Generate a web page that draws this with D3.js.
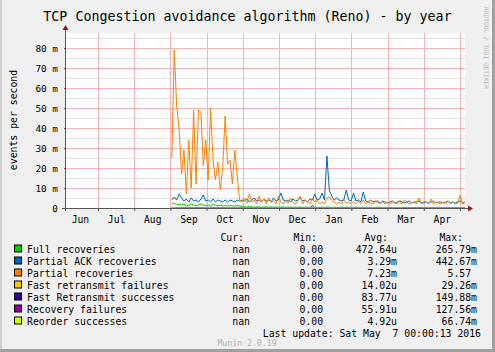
<!DOCTYPE html>
<html>
<head>
<meta charset="utf-8">
<script src="https://cdn.jsdelivr.net/npm/d3@7"></script>
<style>
body { margin: 0; background: #f0f0f0; }
text { font-family: "DejaVu Sans Mono", monospace; }
</style>
</head>
<body>
<div id="chart"></div>
<script>
// month labels, each one sits in the middle of its month slot (Jun = slot 0)
var months = ["Jun", "Jul", "Aug", "Sep", "Oct", "Nov", "Dec", "Jan", "Feb", "Mar", "Apr"];
var monthBounds = [1, 2, 3, 4, 5, 6, 7, 8, 9, 10, 11];
var yTicks = [0, 10, 20, 30, 40, 50, 60, 70, 80];

// data runs from early Sep to the end of the graph, values in milli events/s
var dataStart = 3.04, dataEnd = 11.14;

var fullRecoveries = [2,2.5,1.5,2,1.5,2,1,1.5,2,1.5,1,1.5,2,1.5,1,1.5,1,2,1.5,1,1.5,1,1.2,1,1.5,1,1,1.2,1,
    0.8,0.6,0.5,0.7,0.5,0.4,0.6,0.5,0.4,0.5,0.6,0.4,0.5,0.4,0.5,0.4,
    0.4,0.5,0.3,0.4,0.5,0.3,0.4,0.3,0.5,0.4,0.3,0.4,0.3,0.4,0.3,
    0.4,0.3,0.4,0.3,0.5,0.4,0.3,0.4,0.3,0.3,0.4,0.3,0.4,0.3,0.3,
    0.3,0.4,0.3,0.3,0.4,0.3,0.3,0.2,0.3,0.3,0.4,0.3,0.3,0.2,0.3,
    0.3,0.2,0.3,0.3,0.2,0.3,0.3,0.2,0.3,0.2,0.3,0.3,0.2,0.3,0.2,
    0.3,0.2,0.3,0.2,0.3,0.3,0.2,0.3,0.2,0.3,0.2,0.3,0.2,0.3,0.2,0.3,0.2];

var partialAck = [4,5.5,4,7,5,3.5,4.5,3,5,3.5,4,3,4.5,6.5,3.5,4,3,4.5,3,4,3.5,3,4,3,4,3.5,3,4,3.5,
    4,3.5,4.5,3,4,5,3.5,4,3,4.5,3.5,4,3,5,3.5,4,
    7.5,4,3.5,4,3,4.5,3.5,4,5,3.5,4,3,4.5,4,7,
    4,4.5,7.5,4,26,9,6,4,5,4,3.5,4,9,4,3.5,
    7.5,3.5,4,3,8,3.5,3,4,3,3.5,3,2.5,3.5,3,2.5,
    3,3.5,2.5,3,3.5,3,2.5,3,3.5,2.5,3,3,3.5,2.5,3,
    3,2.5,3,3.5,2.5,3,3,2.5,3,3.5,2.5,3,2.5,3,3.5,2.5,3];

var partialRecoveries = [25,79,51,40,17,29,7,34,10,49,12,49,48,21,34,14,50,24,14,23,9,20,46,22,24,12,29,16,4,
    3,5,2.5,7,3,4,2,6,3,4.5,2,5,3,3.5,2,6,
    3,2,4,2.5,5,3,2,3.5,6,2,4,3,2,5,3,
    4,2,3,2,5,5.5,4,3,2,3,2,4,2.5,3,2,
    3,2,3.5,2,4,2,3,2.5,2,3,4,2,3,2,3,
    2,3,2.5,2,3,2,4,3,2,2.5,3,2,5,2.5,2,
    3,2,4.5,2,3,2.5,2,3,2,3.5,2,3,2,2.5,6.5,2,3];

var fastRetransFail = [0,0,0.1,0,0,0,0,0,0.1,0,0,0,0,0,0,0,0,0,0,0,0,0,0,0,0];
var fastRetransSucc = [0.2,0.1,0.1,0,0.1,0,0,0.1,0,0,0.1,0,0,0,0.1,0,0,0,0,0,0,0,0,0,0];
var recoveryFail = [0.3,0.2,0.1,0,0.1,0,0,0.1,0,0,0,0.1,0,0,0,0,0.1,0,0,0,0,0,0,0,0,0,0,0,0,
    0,0,0,0,0,0,0,0,0,0,0,0,0,0,0,0,
    0,0,0,0,0,0,0,0,0,0,0,0,0,1.3,0,
    0,0,0,0,0,0,0,0,0,0,0,0,0,0,0,
    0,0,0,0,0,0,0,0,0,0,0,0,0,0,0,
    0,0,0,0,0,0,0,0,0,0,0,0,0,0,0,
    0,0,0,0,0,0,0,0,0,0,0,0,0,0,0,0,0];
var reorderSucc = [0.1,0,0,0,0,0,0,0,0,0,0,0,0,0,0,0,0,0,0,0,0,0,0,0,0];

var seriesNames = ["Full recoveries", "Partial ACK recoveries", "Partial recoveries",
    "Fast retransmit failures", "Fast Retransmit successes", "Recovery failures", "Reorder successes"];
var seriesData = [fullRecoveries, partialAck, partialRecoveries, fastRetransFail,
    fastRetransSucc, recoveryFail, reorderSucc];
var colors = ["#00cc00", "#0066b3", "#ff8000", "#ffcc00", "#330099", "#990099", "#ccff00"];

var curVals = ["nan", "nan", "nan", "nan", "nan", "nan", "nan"];
var minVals = ["0.00 ", "0.00 ", "0.00 ", "0.00 ", "0.00 ", "0.00 ", "0.00 "];
var avgVals = ["472.64u", "3.29m", "7.23m", "14.02u", "83.77u", "55.91u", "4.92u"];
var maxVals = ["265.79m", "442.67m", "5.57 ", "29.26m", "149.88m", "127.56m", "66.74m"];

var W = 495, H = 352;
var svg = d3.select("#chart").append("svg")
    .attr("width", W)
    .attr("height", H);

svg.append("rect").attr("width", W).attr("height", H).attr("fill", "#f0f0f0");
// 3d border
svg.append("rect").attr("x", 0).attr("y", 0).attr("width", 2).attr("height", H).attr("fill", "#cfcfcf");
svg.append("rect").attr("x", W - 3).attr("y", 0).attr("width", 3).attr("height", H).attr("fill", "#a0a0a0");
svg.append("rect").attr("x", 0).attr("y", H - 3).attr("width", W).attr("height", 3).attr("fill", "#a0a0a0");

var x = d3.scaleLinear().domain([0.116, 11.14]).range([66, 465]);
var y = d3.scaleLinear().domain([0, 87.5]).range([208, 33]);

svg.append("rect")
    .attr("x", x.range()[0]).attr("y", y.range()[1])
    .attr("width", x.range()[1] - x.range()[0])
    .attr("height", y.range()[0] - y.range()[1])
    .attr("fill", "#ffffff");

// minor grid
svg.append("g").selectAll("line").data(d3.range(5, 88, 10)).enter()
    .append("line")
    .attr("x1", 66).attr("x2", 465)
    .attr("y1", d => Math.round(y(d)) + 0.5).attr("y2", d => Math.round(y(d)) + 0.5)
    .attr("stroke", "#e2e2e2");

// major grid
svg.append("g").selectAll("line").data(yTicks.slice(1)).enter()
    .append("line")
    .attr("x1", 66).attr("x2", 465)
    .attr("y1", d => Math.round(y(d)) + 0.5).attr("y2", d => Math.round(y(d)) + 0.5)
    .attr("stroke", "#f5b4b4");
svg.append("g").selectAll("line").data(monthBounds).enter()
    .append("line")
    .attr("x1", d => Math.round(x(d)) + 0.5).attr("x2", d => Math.round(x(d)) + 0.5)
    .attr("y1", 33).attr("y2", 208)
    .attr("stroke", "#f5b4b4");

// series
seriesData.forEach(function (vals, s) {
    var n = vals.length;
    var line = d3.line()
        .x(function (d, i) { return x(dataStart + i * (dataEnd - dataStart) / (n - 1)); })
        .y(function (d) { return y(d); });
    svg.append("path")
        .datum(vals)
        .attr("d", line)
        .attr("fill", "none")
        .attr("stroke", colors[s])
        .attr("stroke-width", 1);
});

// axes
var yAxis = d3.axisLeft(y).tickValues(yTicks).tickSize(2).tickPadding(6)
    .tickFormat(d => d ? d + " m" : "0");
var gy = svg.append("g").attr("transform", "translate(66,0)").call(yAxis);
gy.select(".domain").remove();
gy.selectAll("text").style("font-size", "9.4px").attr("fill", "#000");
gy.selectAll("line").attr("stroke", "#555");

var xTicks = d3.axisBottom(x).tickValues(monthBounds).tickSize(3).tickFormat("");
var gx = svg.append("g").attr("transform", "translate(0,208)").call(xTicks);
gx.select(".domain").remove();
gx.selectAll("line").attr("stroke", "#555");

var xLabels = d3.axisBottom(x).tickValues(months.map((m, i) => i + 0.5)).tickSize(0).tickPadding(8)
    .tickFormat((d, i) => months[i]);
var gl = svg.append("g").attr("transform", "translate(0,208)").call(xLabels);
gl.select(".domain").remove();
gl.selectAll("text").style("font-size", "9.7px").attr("fill", "#000");

svg.append("line").attr("x1", 62).attr("x2", 468).attr("y1", 208.5).attr("y2", 208.5).attr("stroke", "#555");
svg.append("line").attr("x1", 65.5).attr("x2", 65.5).attr("y1", 211).attr("y2", 30).attr("stroke", "#555");
svg.append("path").attr("d", "M468,205.5L473,208.5L468,211.5Z").attr("fill", "#8b1a1a");
svg.append("path").attr("d", "M62.5,30L65.5,25L68.5,30Z").attr("fill", "#8b1a1a");

// titles
svg.append("text").attr("x", 247.5).attr("y", 21).attr("text-anchor", "middle")
    .style("font-size", "13.3px").text("TCP Congestion avoidance algorithm (Reno) - by year");
svg.append("text").attr("transform", "translate(17,120) rotate(-90)").attr("text-anchor", "middle")
    .style("font-size", "9.8px").text("events per second");
svg.append("text").attr("transform", "translate(484,7) rotate(90)")
    .style("font-size", "6.2px").attr("fill", "#b8b8b8").text("RRDTOOL / TOBI OETIKER");

// legend
var rowY = d3.scaleLinear().domain([0, 1]).range([252.5, 264.5]);
var legend = svg.append("g").selectAll("g").data(seriesNames).enter()
    .append("g")
    .attr("transform", (d, i) => "translate(0," + rowY(i) + ")");
legend.append("rect").attr("x", 14.5).attr("y", -7.5).attr("width", 7).attr("height", 7)
    .attr("fill", (d, i) => colors[i]).attr("stroke", "#000");
legend.append("text").attr("x", 27).style("font-size", "9.8px").text(d => d);

var cols = [[curVals, 250, "Cur:", 244], [minVals, 329, "Min:", 317],
    [avgVals, 397, "Avg:", 388], [maxVals, 477, "Max:", 463]];
cols.forEach(function (c) {
    svg.append("text").attr("x", c[3]).attr("y", rowY(-1)).attr("text-anchor", "end")
        .style("font-size", "9.8px").text(c[2]);
    legend.append("text").attr("x", c[1]).attr("text-anchor", "end")
        .style("font-size", "9.8px").style("white-space", "pre")
        .text((d, i) => c[0][i]);
});

svg.append("text").attr("x", 481).attr("y", rowY(7)).attr("text-anchor", "end")
    .style("font-size", "9.8px").style("white-space", "pre").text("Last update: Sat May  7 00:00:13 2016");
svg.append("text").attr("x", 247).attr("y", 346).attr("text-anchor", "middle")
    .style("font-size", "8.2px").attr("fill", "#b0b0b0").text("Munin 2.0.19");
</script>
</body>
</html>
